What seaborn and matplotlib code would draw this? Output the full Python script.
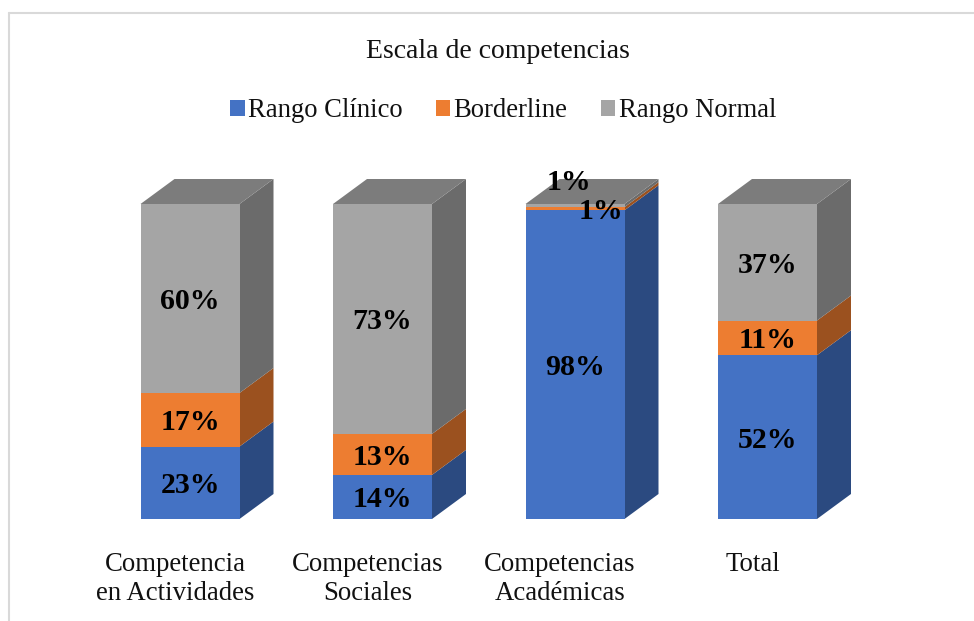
import matplotlib
matplotlib.use("Agg")
import matplotlib.pyplot as plt
from matplotlib.lines import Line2D
import numpy as np
import seaborn as sns

# values (percent)
categories = ["Competencia\nen Actividades", "Competencias\nSociales", "Competencias\nAcadémicas", "Total"]
series_names = ["Rango Clínico", "Borderline", "Rango Normal"]
clinico = [23, 14, 98, 52]
borderline = [17, 13, 1, 11]
normal = [60, 73, 1, 37]

front_colors = ["#4472C4", "#ED7D31", "#A5A5A5"]
side_colors = ["#2B4A80", "#9B511F", "#6B6B6B"]
top_color = "#7C7C7C"

sns.set_theme(style="white")
plt.rcParams["font.family"] = ["Liberation Serif", "DejaVu Serif"]

W, H = 974, 621
fig = plt.figure(figsize=(W / 100, H / 100), dpi=100, facecolor="white")
# axes fills the figure, limits put 0% at y=519px and 100% at y=204px
px_x = 192.5
px_y = 3.15
ax = fig.add_axes([0, 0, 1, 1])

bar_w = 99 / px_x
dx = 34 / px_x
dy = 25 / px_y

bottom = np.zeros(4)
for name, vals, fc, sc in zip(series_names, [clinico, borderline, normal], front_colors, side_colors):
    vals = np.array(vals, dtype=float)
    sns.barplot(x=list(range(4)), y=vals, bottom=bottom, color=fc, saturation=1,
                width=bar_w, label=name, ax=ax, linewidth=0, zorder=3, legend=False)
    # side face of each segment
    for i in range(4):
        xr = i + bar_w / 2
        ax.fill([xr, xr + dx, xr + dx, xr],
                [bottom[i], bottom[i] + dy, bottom[i] + vals[i] + dy, bottom[i] + vals[i]],
                color=sc, lw=0, zorder=2)
    bottom = bottom + vals

# top face of each stack
for i in range(4):
    xl = i - bar_w / 2
    xr = i + bar_w / 2
    ax.fill([xl, xr, xr + dx, xl + dx], [bottom[i], bottom[i], bottom[i] + dy, bottom[i] + dy],
            color=top_color, lw=0, zorder=2)

ax.set_xlim(-190 / px_x, (W - 190) / px_x)
ax.set_ylim(-(H - 519) / px_y, 519 / px_y)
ax.axis("off")

# percent labels, the two 1% ones were moved off the thin segments
moved = {(2, 1): (26, 0), (2, 2): (-6, 26)}
base = np.zeros(4)
for s, vals in enumerate([clinico, borderline, normal]):
    for i, v in enumerate(vals):
        off = moved.get((i, s), (0, 0))
        ax.annotate(f"{v}%", (i, base[i] + v / 2), xytext=(off[0] * 0.72, (off[1] - 3) * 0.72),
                    textcoords="offset points", ha="center", va="center",
                    fontsize=21.5, fontweight="bold", color="black", zorder=5)
    base = base + np.array(vals)

# category labels sit a bit left of the bars
for i, c in enumerate(categories):
    ax.text(i - 15 / px_x, -(552 - 519) / px_y, c, ha="center", va="top",
            fontsize=19.3, color="#111111", linespacing=1.22, zorder=5)

fig.text(498 / W, 1 - 52 / H, "Escala de competencias", ha="center", va="center",
         fontsize=20, color="#111111")

handles, labels = ax.get_legend_handles_labels()
fig.legend(handles[:3], labels[:3], loc="center", bbox_to_anchor=(503 / W, 1 - 111 / H), ncol=3,
           frameon=False, fontsize=19.2, handlelength=0.55, handleheight=0.55,
           handletextpad=0.12, columnspacing=1.25, labelcolor="#111111")

# chart frame, only top and left are visible in the crop
fig.add_artist(Line2D([9 / W, 9 / W], [0, 1 - 13 / H], color="#D9D9D9", lw=1.5))
fig.add_artist(Line2D([9 / W, 1], [1 - 13 / H, 1 - 13 / H], color="#D9D9D9", lw=1.5))

fig.savefig("out.png", dpi=100)
